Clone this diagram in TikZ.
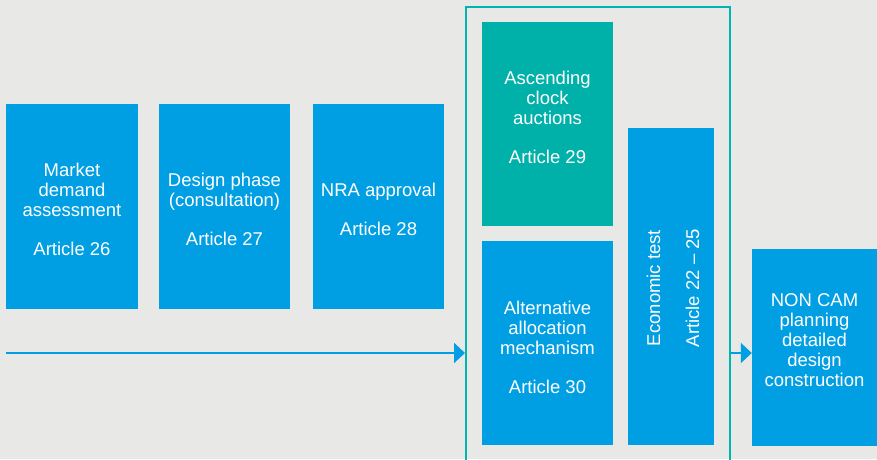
\documentclass[tikz,border=0pt]{standalone}
\usepackage{fontspec}
\setmainfont{Liberation Sans}
\usetikzlibrary{arrows.meta}
\definecolor{bg}{HTML}{E8E8E6}
\definecolor{cblue}{HTML}{009FE3}
\definecolor{cteal}{HTML}{00B1AA}
\definecolor{cframe}{HTML}{00B5AD}
\tikzset{
  box/.style={fill=cblue, draw=none, inner sep=0pt, minimum width=#1},
  box/.default=131pt,
  tbox/.style={fill=cteal, draw=none, inner sep=0pt, minimum width=131pt},
  lbl/.style={text=white, align=center, inner sep=0pt,
    font=\fontsize{18.5pt}{20pt}\selectfont},
  arr/.style={draw=cblue, line width=2pt, -{Triangle[length=11pt,width=20pt]}},
}
\begin{document}
\begin{tikzpicture}[x=1pt,y=-1pt]
\clip (0,0) rectangle (877,459);
\fill[bg] (0,0) rectangle (877,459);
% boxes
\node[box=132pt, minimum height=205pt] (b1) at (72,206.5) {};
\node[box, minimum height=205pt] (b2) at (224.5,206.5) {};
\node[box, minimum height=205pt] (b3) at (378.5,206.5) {};
\node[tbox, minimum height=204pt] (auc) at (547.5,124) {};
\node[box, minimum height=204pt] (alt) at (547.5,343) {};
\node[fill=cblue, inner sep=0pt, minimum width=317pt, minimum height=86pt, rotate=90] (econ) at (671,286.5) {};
\node[box=125pt, minimum height=197pt] (non) at (814.5,347.5) {};
% frame
\node[draw=cframe, line width=2pt, inner sep=0pt, minimum width=264pt, minimum height=463pt] (frame) at (598,238.5) {};
% labels
\node[lbl] (t1) at (72,209.5) {Market\\demand\\assessment\\[19pt]Article 26};
\node[lbl] (t2) at (224.5,209.5) {Design phase\\(consultation)\\[19pt]Article 27};
\node[lbl] (t3) at (378.5,209) {NRA approval\\[19pt]Article 28};
\node[lbl] (t4) at (547.5,117) {Ascending\\clock\\auctions\\[19pt]Article 29};
\node[lbl] (t5) at (547.5,347) {Alternative\\allocation\\mechanism\\[19pt]Article 30};
\node[lbl, rotate=90] (t6) at (673,288) {Economic test\\[19pt]Article 22 -- 25};
\node[lbl] (t7) at (814.5,340) {NON CAM\\planning\\detailed\\design\\construction};
% arrows
\coordinate (s) at (6,353);
\draw[arr] (s) -- (s -| frame.west);
\draw[arr] (s -| frame.east) -- (s -| non.west);
\end{tikzpicture}
\end{document}
